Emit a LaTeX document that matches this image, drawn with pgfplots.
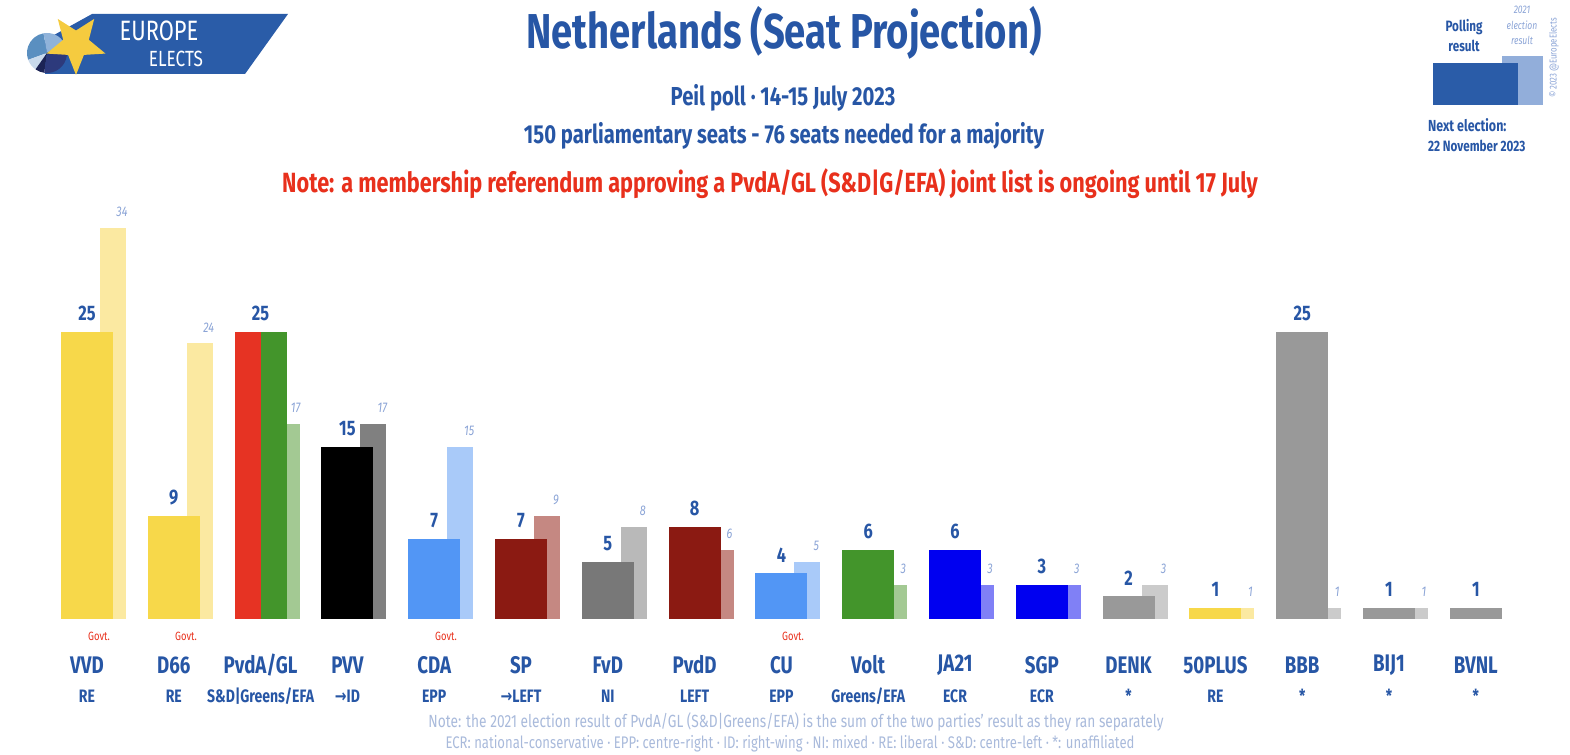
\documentclass[border=0pt]{standalone}
\usepackage{fontspec}
\setmainfont{Fira Sans}[FakeStretch=0.78]
\newfontfamily\arrowfont{DejaVu Sans}[FakeStretch=0.78]
\usepackage{pgfplots}
\usepackage{pgfplotstable}
\pgfplotsset{compat=1.18}
\usetikzlibrary{shapes.geometric}

\definecolor{eeblue}{HTML}{2756A5}
\definecolor{eered}{HTML}{E8301C}
\definecolor{oldlab}{HTML}{8BA4D6}
\definecolor{foot}{HTML}{A9BADB}
\definecolor{banner}{HTML}{2A5CA8}
\definecolor{staryellow}{HTML}{F5CB3F}
% main bar colours
\definecolor{c0}{HTML}{F7D84A}
\definecolor{c1}{HTML}{F7D84A}
\definecolor{c2}{HTML}{E63323}
\definecolor{c3}{HTML}{000000}
\definecolor{c4}{HTML}{5296F5}
\definecolor{c5}{HTML}{8B1A12}
\definecolor{c6}{HTML}{787878}
\definecolor{c7}{HTML}{8B1A12}
\definecolor{c8}{HTML}{5296F5}
\definecolor{c9}{HTML}{43952B}
\definecolor{c10}{HTML}{0000F0}
\definecolor{c11}{HTML}{0000F0}
\definecolor{c12}{HTML}{999999}
\definecolor{c13}{HTML}{F7D84A}
\definecolor{c14}{HTML}{999999}
\definecolor{c15}{HTML}{999999}
\definecolor{c16}{HTML}{999999}
\definecolor{glgreen}{HTML}{43952B}
% 2021 bar colours
\definecolor{o0}{HTML}{FBE9A1}
\definecolor{o1}{HTML}{FBE9A1}
\definecolor{o2}{HTML}{A3C993}
\definecolor{o3}{HTML}{808080}
\definecolor{o4}{HTML}{A9CAF9}
\definecolor{o5}{HTML}{C58882}
\definecolor{o6}{HTML}{B9B9B9}
\definecolor{o7}{HTML}{C58882}
\definecolor{o8}{HTML}{A9CAF9}
\definecolor{o9}{HTML}{A3C993}
\definecolor{o10}{HTML}{8080F6}
\definecolor{o11}{HTML}{8080F6}
\definecolor{o12}{HTML}{CBCBCB}
\definecolor{o13}{HTML}{FBE9A1}
\definecolor{o14}{HTML}{CBCBCB}
\definecolor{o15}{HTML}{CBCBCB}
\definecolor{o16}{HTML}{CBCBCB}
\definecolor{pie1}{HTML}{5A8FC0}
\definecolor{pie2}{HTML}{90B3DA}
\definecolor{pie3}{HTML}{C9DAEC}
\definecolor{pie4}{HTML}{1C2455}
\definecolor{pie5}{HTML}{2D3A7C}
\definecolor{legold}{HTML}{92AEDA}

\pgfplotstableread{
x poll e21
0 25 34
1 9 24
2 25 17
3 15 17
4 7 15
5 7 9
6 5 8
7 8 6
8 4 5
9 6 3
10 6 3
11 3 3
12 2 3
13 1 1
14 25 1
15 1 1
16 1 nan
}\seats

\begin{document}
\begin{tikzpicture}
\begin{axis}[
  scale only axis, width=785pt, height=377.5pt,
  xmin=-1.00230, xmax=17.0853, ymin=-11.7826, ymax=53.8696,
  hide axis, clip=false,
]
% 2021 results (behind)
\pgfplotsinvokeforeach{0,...,16}{
  \addplot[ybar, bar width=0.3, bar shift=0.3, fill=o#1, draw=none,
    restrict x to domain=#1:#1] table[x=x,y=e21]{\seats};
}
% polling results
\pgfplotsinvokeforeach{0,...,16}{
  \addplot[ybar, bar width=0.6, bar shift=0, fill=c#1, draw=none,
    restrict x to domain=#1:#1] table[x=x,y=poll]{\seats};
}
\addplot[ybar, bar width=0.3, bar shift=0.15, fill=glgreen, draw=none,
    restrict x to domain=2:2] table[x=x,y=poll]{\seats};
% value labels
\addplot[ybar, bar width=0.6, bar shift=0, draw=none, fill=none,
  nodes near coords={\pgfmathprintnumber[assume math mode=true]{\pgfplotspointmeta}},
  every node near coord/.append style={font=\bfseries\fontsize{10.5}{10.5}\selectfont, text=eeblue, inner sep=0pt, yshift=5.5pt, anchor=south}]
  table[x=x,y=poll]{\seats};
\addplot[ybar, bar width=0.3, bar shift=0.3, draw=none, fill=none,
  nodes near coords={\pgfmathprintnumber[assume math mode=true]{\pgfplotspointmeta}},
  every node near coord/.append style={font=\itshape\fontsize{7}{7}\selectfont, text=oldlab, inner sep=0pt, yshift=5.5pt, xshift=17.5pt, anchor=south}]
  table[x=x,y=e21]{\seats};
\end{axis}

\begin{scope}[x=0.5pt, y=-0.5pt, shift={(0pt,377.5pt)}]
  % logo
  \fill[banner] (92,14) -- (288,14) -- (245,74) -- (45,74) -- (45,40) -- cycle;
  \begin{scope}[shift={(47,53)}, x=0.5pt, y=0.5pt]
    \fill[pie1] (0,0) -- (100:20) arc[start angle=100, end angle=200, radius=20] -- cycle;
    \fill[pie2] (0,0) -- (30:20) arc[start angle=30, end angle=100, radius=20] -- cycle;
    \fill[pie3] (0,0) -- (200:20) arc[start angle=200, end angle=235, radius=20] -- cycle;
    \fill[pie4] (0,0) -- (235:20) arc[start angle=235, end angle=262, radius=20] -- cycle;
    \fill[pie5] (0,0) -- (262:20) arc[start angle=262, end angle=390, radius=20] -- cycle;
  \end{scope}
  \node[star, star points=5, star point ratio=2.3, fill=staryellow, minimum size=31pt, inner sep=0pt, rotate=36] at (76,44) {};
  \node[text=white, font=\fontsize{14}{14}\selectfont] at (159,31) {EUROPE};
  \node[text=white, font=\fontsize{11}{11}\selectfont] at (176,59) {ELECTS};

  % titles
  \node[text=eeblue, font=\bfseries\fontsize{24.5}{24.5}\selectfont] at (784,33) {Netherlands (Seat Projection)};
  \node[text=eeblue, font=\bfseries\fontsize{13}{13}\selectfont] at (783,98) {Peil poll · 14-15 July 2023};
  \node[text=eeblue, font=\bfseries\fontsize{13}{13}\selectfont] at (784,136) {150 parliamentary seats - 76 seats needed for a majority};
  \node[text=eered, font=\bfseries\fontsize{13.9}{13.9}\selectfont] at (770,184) {Note: a membership referendum approving a PvdA/GL (S\&D|G/EFA) joint list is ongoing until 17 July};

  % legend box top right
  \fill[legold] (1502,56) rectangle (1543,105);
  \fill[banner] (1433,63) rectangle (1518,105);
  \node[text=eeblue, font=\bfseries\fontsize{7.5}{7.5}\selectfont] at (1464,27) {Polling};
  \node[text=eeblue, font=\bfseries\fontsize{7.5}{7.5}\selectfont] at (1464,46) {result};
  \node[text=oldlab, font=\itshape\fontsize{5.5}{5.5}\selectfont] at (1522,10) {2021};
  \node[text=oldlab, font=\itshape\fontsize{5.5}{5.5}\selectfont] at (1522,25) {election};
  \node[text=oldlab, font=\itshape\fontsize{5.5}{5.5}\selectfont] at (1522,40) {result};
  \node[text=oldlab, rotate=90, font=\fontsize{5}{5}\selectfont] at (1554,58) {© 2023 @EuropeElects};
  \node[anchor=west, text=eeblue, font=\bfseries\fontsize{8}{8}\selectfont] at (1421,125) {Next election:};
  \node[anchor=west, text=eeblue, font=\bfseries\fontsize{7.5}{7.5}\selectfont] at (1421,146) {22 November 2023};

  % Govt. markers
  \foreach \gx in {99, 186, 446, 793}
    \node[text=eered, font=\fontsize{6}{6}\selectfont] at (\gx,636) {Govt.};

  % party names and groups
  \foreach \px/\nm/\gr in {87/VVD/RE, 173.8/D66/RE, 260.6/{PvdA/GL}/{S\&D|Greens/EFA}, 347.4/PVV/{{\arrowfont →}ID}, 434.2/CDA/EPP, 521/SP/{{\arrowfont →}LEFT}, 607.8/FvD/NI, 694.6/PvdD/LEFT, 781.4/CU/EPP, 868.2/Volt/{Greens/EFA}, 955/JA21/ECR, 1041.8/SGP/ECR, 1128.6/DENK/*, 1215.4/50PLUS/RE, 1302.2/BBB/*, 1389/BIJ1/*, 1475.8/BVNL/*} {
    \node[text=eeblue, font=\bfseries\fontsize{12}{12}\selectfont] at (\px,665) {\nm};
    \node[text=eeblue, font=\bfseries\fontsize{9}{9}\selectfont] at (\px,696) {\gr};
  }

  % footer notes
  \node[text=foot, font=\fontsize{8.8}{8.8}\selectfont] at (796,722) {Note: the 2021 election result of PvdA/GL (S\&D|Greens/EFA) is the sum of the two parties' result as they ran separately};
  \node[text=foot, font=\fontsize{8.4}{8.4}\selectfont] at (790,744) {ECR: national-conservative · EPP: centre-right · ID: right-wing · NI: mixed · RE: liberal · S\&D: centre-left · *: unaffiliated};
\end{scope}
\pgfresetboundingbox
\path (0,0) rectangle (785pt,377.5pt);
\end{tikzpicture}
\end{document}
